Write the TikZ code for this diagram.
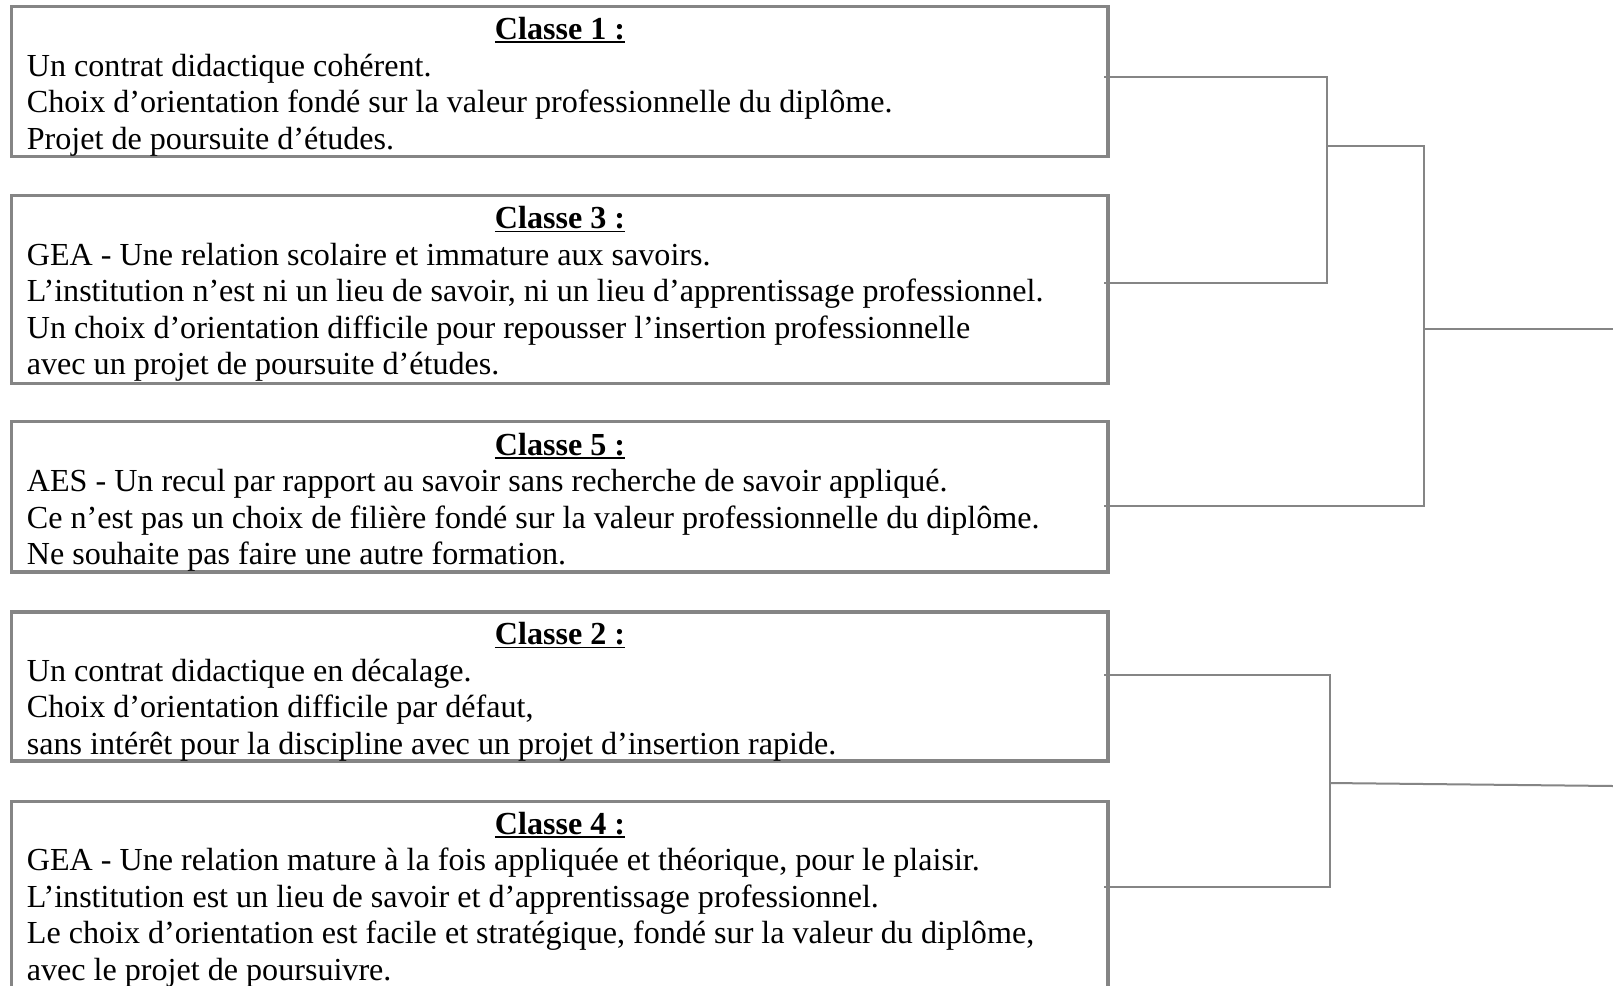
\documentclass[tikz,border=0pt]{standalone}
\usepackage{fontspec}
\setmainfont{Liberation Serif}
\definecolor{boxgray}{HTML}{858585}
\newcommand\ttlul[1]{\setbox0\hbox{#1}\rlap{\rule[-3.6pt]{\wd0}{1.8pt}}\box0}
\tikzset{
  box/.style={draw=boxgray, line width=3.2pt, inner sep=0pt, outer sep=0pt, anchor=north west, minimum width=1096.7pt},
  conn/.style={draw=boxgray, line width=2pt},
  ttl/.style={anchor=base, inner sep=0pt, font=\fontsize{32.1}{36.5}\selectfont\bfseries},
  txt/.style={anchor=base west, inner sep=0pt, font=\fontsize{32.1}{36.5}\selectfont},
}
\begin{document}
\begin{tikzpicture}[x=1pt,y=-1pt]
\useasboundingbox (0,0) rectangle (1613,985);
\fill[white] (0,0) rectangle (1613,985);
% boxes
\node[box, minimum height=150.2pt] (b1) at (11.3,6.2) {};
\node[box, minimum height=188.2pt] (b3) at (11.3,195.5) {};
\node[box, minimum height=150.2pt] (b5) at (11.3,421.8) {};
\node[box, minimum height=149pt] (b2) at (11.3,612) {};
\begin{scope}
\clip (0,0) rectangle (1613,985);
\node[box, minimum height=220pt] (b4) at (11.3,801.4) {};
\end{scope}
% box 1
\node[ttl] (t1) at (560,39.5) {\ttlul{Classe 1 :}};
\node[txt] (l11) at (26.7,76) {Un contrat didactique cohérent.};
\node[txt] (l12) at (26.7,112.5) {Choix d’orientation fondé sur la valeur professionnelle du diplôme.};
\node[txt] (l13) at (26.7,149) {Projet de poursuite d’études.};
% box 3
\node[ttl] (t3) at (560,228.8) {\ttlul{Classe 3 :}};
\node[txt] (l31) at (26.7,265.3) {GEA - Une relation scolaire et immature aux savoirs.};
\node[txt] (l32) at (26.7,301.8) {L’institution n’est ni un lieu de savoir, ni un lieu d’apprentissage professionnel.};
\node[txt] (l33) at (26.7,338.3) {Un choix d’orientation difficile pour repousser l’insertion professionnelle};
\node[txt] (l34) at (26.7,374.8) {avec un projet de poursuite d’études.};
% box 5
\node[ttl] (t5) at (560,455.1) {\ttlul{Classe 5 :}};
\node[txt] (l51) at (26.7,491.6) {AES - Un recul par rapport au savoir sans recherche de savoir appliqué.};
\node[txt] (l52) at (26.7,528.1) {Ce n’est pas un choix de filière fondé sur la valeur professionnelle du diplôme.};
\node[txt] (l53) at (26.7,564.6) {Ne souhaite pas faire une autre formation.};
% box 2
\node[ttl] (t2) at (560,644.8) {\ttlul{Classe 2 :}};
\node[txt] (l21) at (26.7,681.3) {Un contrat didactique en décalage.};
\node[txt] (l22) at (26.7,717.8) {Choix d’orientation difficile par défaut,};
\node[txt] (l23) at (26.7,754.3) {sans intérêt pour la discipline avec un projet d’insertion rapide.};
% box 4
\node[ttl] (t4) at (560,834.2) {\ttlul{Classe 4 :}};
\node[txt] (l41) at (26.7,870.7) {GEA - Une relation mature à la fois appliquée et théorique, pour le plaisir.};
\node[txt] (l42) at (26.7,907.2) {L’institution est un lieu de savoir et d’apprentissage professionnel.};
\node[txt] (l43) at (26.7,943.7) {Le choix d’orientation est facile et stratégique, fondé sur la valeur du diplôme,};
\node[txt] (l44) at (26.7,980.2) {avec le projet de poursuivre.};
% dendrogram
\coordinate (c1) at (1104,77.2);
\coordinate (c3) at (1104,283);
\coordinate (c5) at (1104,506);
\coordinate (c2) at (1104,675);
\coordinate (c4) at (1104,887);
\coordinate (j13) at (1327,146);
\coordinate (r1) at (1424,329);
\coordinate (e1) at (1613,329);
\coordinate (j24) at (1330,783);
\coordinate (e2) at (1613,786);
\draw[conn] (c1) -| (j13) |- (c3);
\draw[conn] (j13) -| (r1) |- (c5);
\draw[conn] (r1) -- (e1);
\draw[conn] (c2) -| (j24) |- (c4);
\draw[conn] (j24) -- (e2);
\end{tikzpicture}
\end{document}
